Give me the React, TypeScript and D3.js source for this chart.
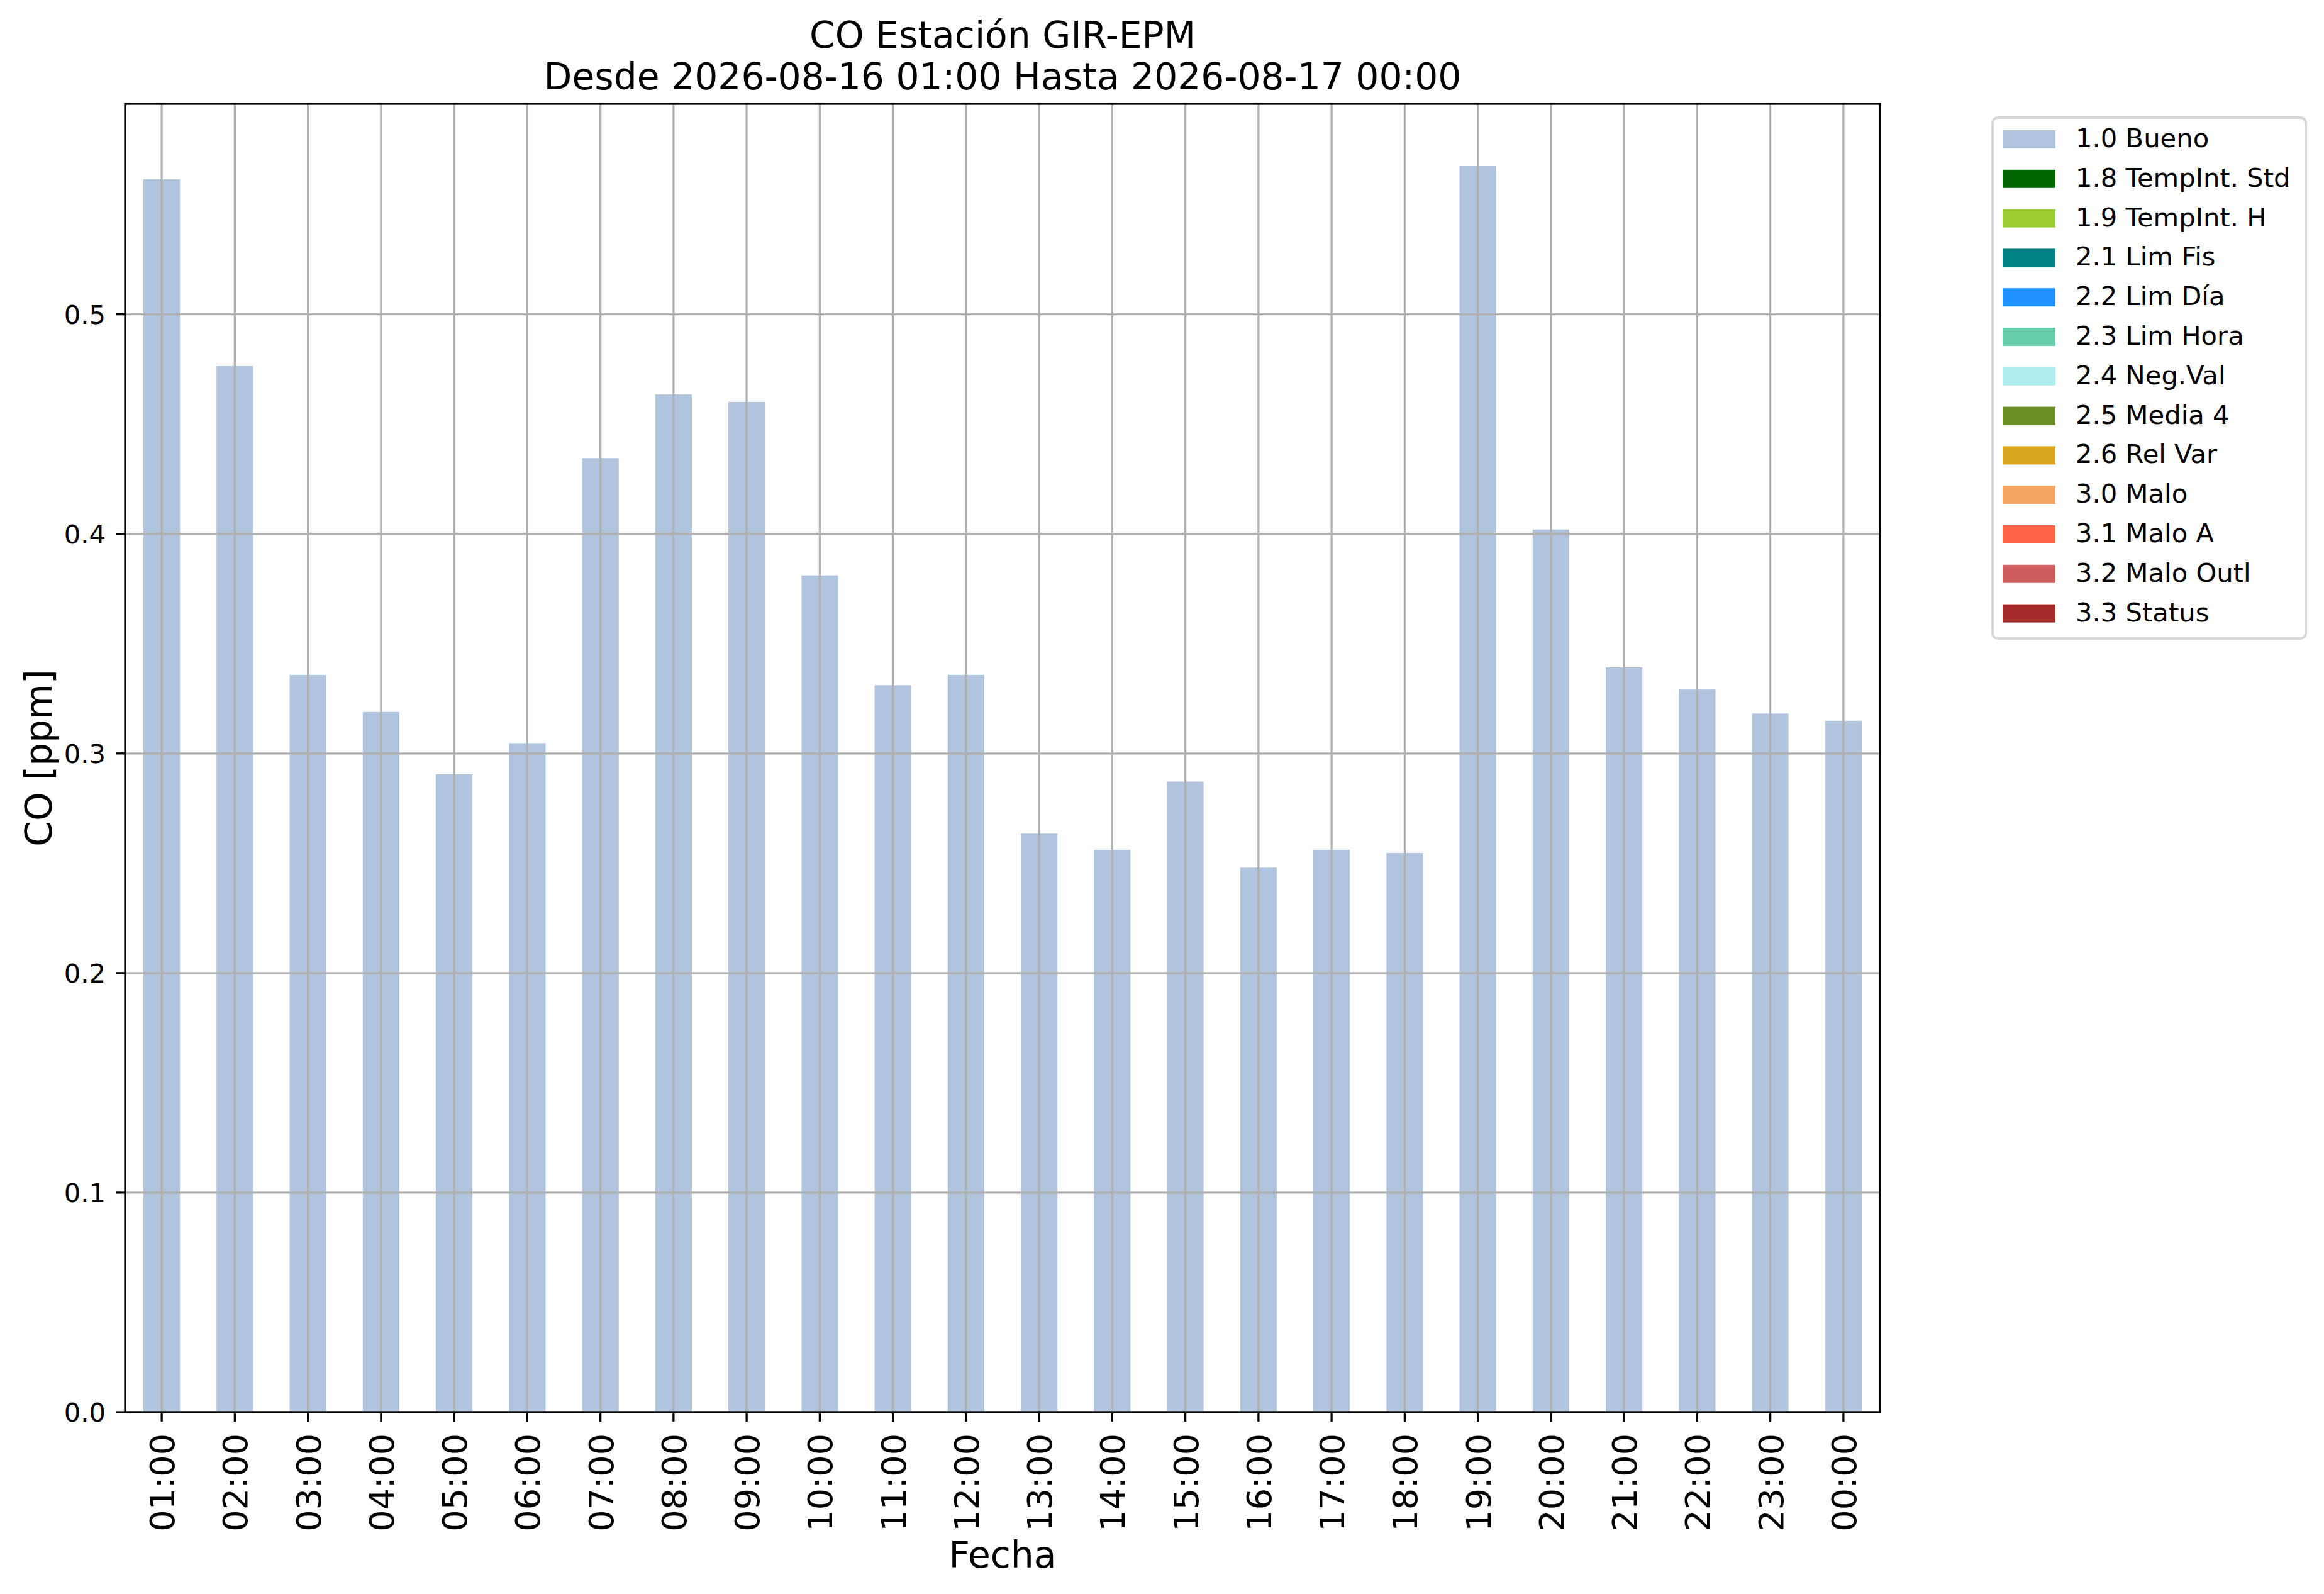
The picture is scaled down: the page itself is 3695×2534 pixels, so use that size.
import React, { useEffect, useRef } from "react";
import * as d3 from "d3";

const hours = [
  "01:00", "02:00", "03:00", "04:00", "05:00", "06:00", "07:00", "08:00",
  "09:00", "10:00", "11:00", "12:00", "13:00", "14:00", "15:00", "16:00",
  "17:00", "18:00", "19:00", "20:00", "21:00", "22:00", "23:00", "00:00",
];

const coValues = [
  0.5615, 0.4764, 0.3358, 0.3189, 0.2905, 0.3047, 0.4345, 0.4635,
  0.4601, 0.3811, 0.3311, 0.3358, 0.2635, 0.2561, 0.2872, 0.248,
  0.2561, 0.2547, 0.5675, 0.402, 0.3392, 0.3291, 0.3182, 0.3149,
];

const yTicks = [0.0, 0.1, 0.2, 0.3, 0.4, 0.5];

const legendLabels = [
  "1.0 Bueno", "1.8 TempInt. Std", "1.9 TempInt. H", "2.1 Lim Fis",
  "2.2 Lim Día", "2.3 Lim Hora", "2.4 Neg.Val", "2.5 Media 4",
  "2.6 Rel Var", "3.0 Malo", "3.1 Malo A", "3.2 Malo Outl", "3.3 Status",
];

const legendColors = [
  "lightsteelblue", "darkgreen", "yellowgreen", "teal",
  "dodgerblue", "mediumaquamarine", "paleturquoise", "olivedrab",
  "goldenrod", "sandybrown", "tomato", "indianred", "brown",
];

const titleLines = ["CO Estación GIR-EPM", "Desde 2026-08-16 01:00 Hasta 2026-08-17 00:00"];

function drawChart(element) {
  d3.select(element).selectAll("*").remove();

  const W = 3695;
  const H = 2534;
  const margin = { top: 165, right: 706, bottom: 289, left: 199 };
  const left = margin.left;
  const right = W - margin.right;
  const top = margin.top;
  const bottom = H - margin.bottom;
  const font = "'DejaVu Sans', sans-serif";
  const lw = 3.3;

  const svg = d3
    .select(element)
    .append("svg")
    .attr("width", W)
    .attr("height", H)
    .style("position", "absolute")
    .style("left", 0)
    .style("top", 0)
    .style("background", "white")
    .style("font-family", font);

  const x = d3
    .scaleBand()
    .domain(hours)
    .range([left, right])
    .paddingInner(0.5)
    .paddingOuter(0.25);

  const yMax = d3.max(coValues) * 1.05;
  const y = d3.scaleLinear().domain([0, yMax]).range([bottom, top]);

  const data = hours.map((h, i) => ({ h, v: coValues[i] }));

  // bars
  svg
    .append("g")
    .selectAll("rect")
    .data(data)
    .join("rect")
    .attr("x", (d) => x(d.h))
    .attr("y", (d) => y(d.v))
    .attr("width", x.bandwidth())
    .attr("height", (d) => y(0) - y(d.v))
    .attr("fill", "lightsteelblue");

  // grid (drawn above bars)
  const grid = svg.append("g").attr("stroke", "#b0b0b0").attr("stroke-width", lw);
  grid
    .selectAll("line.v")
    .data(hours)
    .join("line")
    .attr("class", "v")
    .attr("x1", (d) => x(d) + x.bandwidth() / 2)
    .attr("x2", (d) => x(d) + x.bandwidth() / 2)
    .attr("y1", top)
    .attr("y2", bottom);
  grid
    .selectAll("line.h")
    .data(yTicks)
    .join("line")
    .attr("class", "h")
    .attr("x1", left)
    .attr("x2", right)
    .attr("y1", (d) => y(d))
    .attr("y2", (d) => y(d));

  // frame
  svg
    .append("rect")
    .attr("x", left)
    .attr("y", top)
    .attr("width", right - left)
    .attr("height", bottom - top)
    .attr("fill", "none")
    .attr("stroke", "black")
    .attr("stroke-width", lw);

  // x ticks
  const xt = svg.append("g");
  xt.selectAll("line")
    .data(hours)
    .join("line")
    .attr("x1", (d) => x(d) + x.bandwidth() / 2)
    .attr("x2", (d) => x(d) + x.bandwidth() / 2)
    .attr("y1", bottom)
    .attr("y2", bottom + 15)
    .attr("stroke", "black")
    .attr("stroke-width", lw);
  xt.selectAll("text")
    .data(hours)
    .join("text")
    .attr(
      "transform",
      (d) => `translate(${x(d) + x.bandwidth() / 2 + 20},${bottom + 34}) rotate(-90)`
    )
    .attr("text-anchor", "end")
    .attr("font-size", 54)
    .text((d) => d);

  // y ticks
  const yt = svg.append("g");
  yt.selectAll("line")
    .data(yTicks)
    .join("line")
    .attr("x1", left - 15)
    .attr("x2", left)
    .attr("y1", (d) => y(d))
    .attr("y2", (d) => y(d))
    .attr("stroke", "black")
    .attr("stroke-width", lw);
  yt.selectAll("text")
    .data(yTicks)
    .join("text")
    .attr("x", left - 31)
    .attr("y", (d) => y(d) + 15)
    .attr("text-anchor", "end")
    .attr("font-size", 41.7)
    .text((d) => d3.format(".1f")(d));

  // axis labels
  svg
    .append("text")
    .attr("x", (left + right) / 2)
    .attr("y", 2492)
    .attr("text-anchor", "middle")
    .attr("font-size", 58.3)
    .text("Fecha");

  svg
    .append("text")
    .attr("transform", `translate(82,${(top + bottom) / 2}) rotate(-90)`)
    .attr("text-anchor", "middle")
    .attr("font-size", 58.3)
    .text("CO [ppm]");

  // title
  svg
    .append("g")
    .selectAll("text")
    .data(titleLines)
    .join("text")
    .attr("x", (left + right) / 2)
    .attr("y", (d, i) => 76 + i * 66)
    .attr("text-anchor", "middle")
    .attr("font-size", 58.3)
    .text((d) => d);

  // legend
  const lg = svg.append("g");
  lg.append("rect")
    .attr("x", 3168)
    .attr("y", 187)
    .attr("width", 498)
    .attr("height", 828)
    .attr("rx", 8)
    .attr("fill", "white")
    .attr("stroke", "#d6d6d6")
    .attr("stroke-width", 4);
  const rowH = 62.8;
  lg.selectAll("rect.sw")
    .data(legendLabels)
    .join("rect")
    .attr("class", "sw")
    .attr("x", 3184)
    .attr("y", (d, i) => 207 + i * rowH)
    .attr("width", 84)
    .attr("height", 29)
    .attr("fill", (d, i) => legendColors[i]);
  lg.selectAll("text")
    .data(legendLabels)
    .join("text")
    .attr("x", 3300)
    .attr("y", (d, i) => 234 + i * rowH)
    .attr("font-size", 41.7)
    .text((d) => d);
}

export default function App() {
  const ref = useRef(null);
  useEffect(() => {
    document.body.style.margin = "0";
    drawChart(ref.current);
  }, []);
  return <div ref={ref} />;
}
